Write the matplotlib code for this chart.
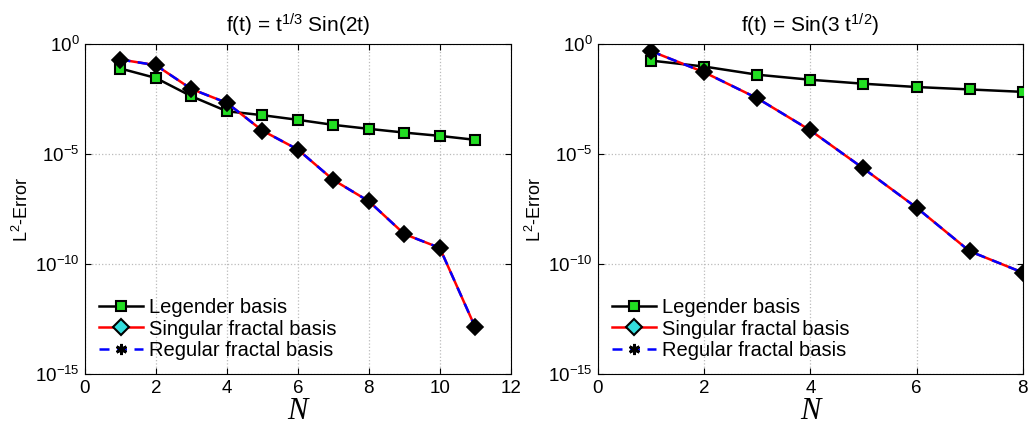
import numpy as np
import matplotlib
matplotlib.use('Agg')
import matplotlib.pyplot as plt
from matplotlib.lines import Line2D

plt.rcParams['font.family'] = ['Liberation Sans', 'DejaVu Sans']
plt.rcParams['mathtext.fontset'] = 'custom'
plt.rcParams['mathtext.rm'] = 'Liberation Sans'
plt.rcParams['mathtext.it'] = 'Liberation Sans:italic'

# left panel: f(t) = t^(1/3) Sin(2t)
n_left = [1, 2, 3, 4, 5, 6, 7, 8, 9, 10, 11]
legendre_left = 10.0 ** np.array([-1.12, -1.55, -2.38, -3.06, -3.24, -3.45, -3.68, -3.86, -4.03, -4.18, -4.36])
singular_left = 10.0 ** np.array([-0.71, -0.97, -2.05, -2.68, -3.94, -4.80, -6.18, -7.15, -8.64, -9.27, -12.88])
regular_left = singular_left.copy()

# right panel: f(t) = Sin(3 t^(1/2))
n_right = [1, 2, 3, 4, 5, 6, 7, 8]
legendre_right = 10.0 ** np.array([-0.76, -1.03, -1.40, -1.63, -1.81, -1.96, -2.07, -2.18])
singular_right = 10.0 ** np.array([-0.33, -1.29, -2.47, -3.93, -5.66, -7.44, -9.42, -10.39])
regular_right = singular_right.copy()

titles = ['f(t) = t$^{1/3}$ Sin(2t)', 'f(t) = Sin(3 t$^{1/2}$)']
xticks_list = [[0, 2, 4, 6, 8, 10, 12], [0, 2, 4, 6, 8]]
xlims = [(0, 12), (0, 8)]
yticks = [1e-15, 1e-10, 1e-5, 1e0]

fig = plt.figure(figsize=(10.31, 4.26), dpi=100)
ax1 = fig.add_axes([0.0824, 0.122, 0.413, 0.775])
ax2 = fig.add_axes([0.580, 0.122, 0.412, 0.775])

panels = [(ax1, n_left, legendre_left, singular_left, regular_left),
          (ax2, n_right, legendre_right, singular_right, regular_right)]

for i, (ax, n, leg, sing, reg) in enumerate(panels):
    ax.semilogy(n, leg, '-', color='black', lw=1.8, marker='s', ms=7,
                mfc='#22dd22', mec='black', mew=1.5, zorder=3)
    ax.semilogy(n, sing, '-', color='red', lw=1.8, zorder=4)
    ax.semilogy(n, reg, '--', color='blue', lw=1.8, dashes=(4, 3), zorder=5)
    # markers drawn on top (diamonds appear black in the plot area)
    ax.semilogy(n, sing, 'none', marker='D', ms=8.5, mfc='black', mec='black', mew=1.2, zorder=6)
    ax.semilogy(n, reg, 'none', marker=(6, 2, 0), ms=7, mec='black', mew=1.2, zorder=7)

    ax.set_xlim(*xlims[i])
    ax.set_ylim(1e-15, 1e0)
    ax.set_xticks(xticks_list[i])
    ax.set_yticks(yticks)
    ax.minorticks_off()
    ax.tick_params(direction='in', labelsize=13.5, length=4, top=True, right=True, pad=4)
    ax.grid(True, which='major', linestyle=':', color='#bbbbbb', lw=0.9)
    ax.set_title(titles[i], fontsize=15, pad=8)
    ax.set_ylabel('L$^2$-Error', fontsize=13)
    ax.yaxis.set_label_coords(-0.124, 0.5)
    ax.set_xlabel('N', fontsize=22, family='Liberation Serif', fontstyle='italic', labelpad=0)
    for sp in ax.spines.values():
        sp.set_linewidth(0.8)

    handles = [
        Line2D([], [], color='black', lw=1.8, marker='s', ms=7, mfc='#22dd22', mec='black', mew=1.5),
        Line2D([], [], color='red', lw=1.8, marker='D', ms=8, mfc='#33dddd', mec='black', mew=1.5),
        Line2D([], [], color='blue', lw=1.8, ls='--', dashes=(4, 3), marker=(6, 2, 0), ms=8, mec='black', mew=2),
    ]
    ax.legend(handles, ['Legender basis', 'Singular fractal basis', 'Regular fractal basis'],
              loc='lower left', frameon=False, fontsize=14.5, handlelength=2.2,
              handletextpad=0.3, labelspacing=0.12, borderaxespad=0.3)

fig.savefig('out.png', dpi=100)
